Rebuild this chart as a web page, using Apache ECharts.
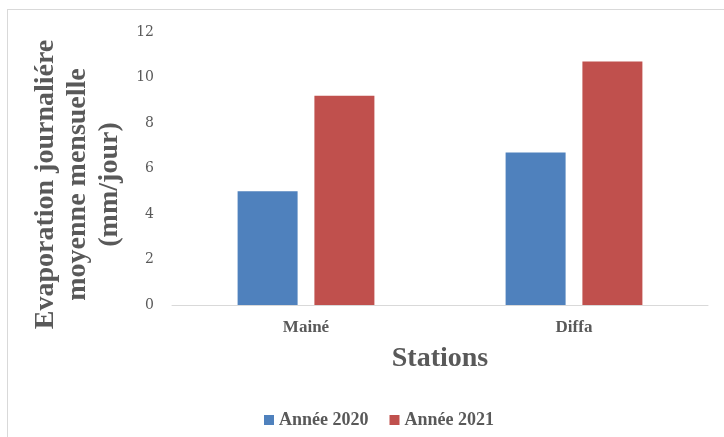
<!DOCTYPE html>
<html>
<head>
<meta charset="utf-8">
<script src="https://cdn.jsdelivr.net/npm/echarts@6/dist/echarts.min.js"></script>
<style>
html,body{margin:0;padding:0;background:#fff;}
#frame{position:absolute;left:7px;top:9px;width:730px;height:440px;border:1px solid #d9d9d9;box-sizing:border-box;}
#chart{position:absolute;left:0;top:0;width:724px;height:437px;}
</style>
</head>
<body>
<div id="frame"></div>
<div id="chart"></div>
<script>
const categories = ['Mainé', 'Diffa'];
const seriesNames = ['Année 2020', 'Année 2021'];
const values2020 = [5.0, 6.7];
const values2021 = [9.2, 10.7];
const yTicks = [0, 2, 4, 6, 8, 10, 12];

const chart = echarts.init(document.getElementById('chart'), null, {renderer: 'canvas'});
const serif = '"Liberation Serif", "Times New Roman", serif';
chart.setOption({
  animation: false,
  backgroundColor: 'transparent',
  grid: {left: 172, right: 16, top: 32, bottom: 132},
  legend: {
    data: seriesNames,
    left: 259, top: 406,
    itemWidth: 10, itemHeight: 10, itemGap: 21,
    icon: 'rect',
    textStyle: {fontFamily: serif, fontWeight: 'bold', fontSize: 18, color: '#595959'}
  },
  xAxis: {
    type: 'category',
    data: categories,
    name: 'Stations',
    nameLocation: 'middle',
    nameGap: 40,
    nameTextStyle: {fontFamily: serif, fontWeight: 'bold', fontSize: 28, color: '#595959'},
    axisLine: {lineStyle: {color: '#d9d9d9', width: 1}},
    axisTick: {show: false},
    axisLabel: {margin: 14, fontFamily: serif, fontWeight: 'bold', fontSize: 17, color: '#595959'}
  },
  yAxis: {
    type: 'value',
    min: yTicks[0], max: yTicks[yTicks.length - 1], interval: 2,
    name: 'Evaporation journaliére\nmoyenne mensuelle\n(mm/jour)',
    nameLocation: 'middle',
    nameGap: 45,
    nameTextStyle: {fontFamily: serif, fontWeight: 'bold', fontSize: 28, color: '#595959', lineHeight: 32, align: 'center', padding: [0, 32, 0, 0]},
    axisLine: {show: false},
    axisTick: {show: false},
    splitLine: {show: false},
    axisLabel: {margin: 18, fontFamily: '"DejaVu Serif", serif', fontSize: 14, color: '#595959'}
  },
  series: [
    {name: seriesNames[0], type: 'bar', data: values2020, barWidth: 60, barGap: '28%', itemStyle: {color: '#4f81bd'}},
    {name: seriesNames[1], type: 'bar', data: values2021, barWidth: 60, barGap: '28%', itemStyle: {color: '#c0504d'}}
  ]
});
</script>
</body>
</html>
